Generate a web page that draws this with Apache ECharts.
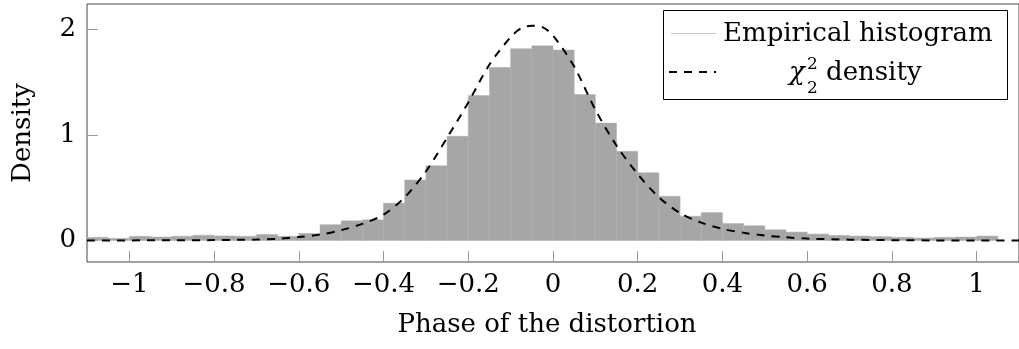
<!DOCTYPE html>
<html>
<head>
<meta charset="utf-8">
<script src="https://cdn.jsdelivr.net/npm/echarts@6/dist/echarts.min.js"></script>
<style>
  html, body { margin: 0; padding: 0; background: #fff; }
  #chart { width: 1019px; height: 349px; }
</style>
</head>
<body>
<div id="chart"></div>
<script>
// Histogram bins: left edge of each bin (bin width 0.05) and its density
const binLeft = [
  -1.10, -1.05, -1.00, -0.95, -0.90, -0.85, -0.80, -0.75, -0.70, -0.65,
  -0.60, -0.55, -0.50, -0.45, -0.40, -0.35, -0.30, -0.25, -0.20, -0.15,
  -0.10, -0.05, 0.00, 0.05, 0.10, 0.15, 0.20, 0.25, 0.30, 0.35,
  0.40, 0.45, 0.50, 0.55, 0.60, 0.65, 0.70, 0.75, 0.80, 0.85,
  0.90, 0.95, 1.00
];
const binWidth = 0.05;
const binDensity = [
  0.030, 0.020, 0.040, 0.033, 0.040, 0.050, 0.043, 0.040, 0.057, 0.040,
  0.067, 0.150, 0.187, 0.196, 0.354, 0.574, 0.709, 0.989, 1.375, 1.642,
  1.820, 1.847, 1.807, 1.385, 1.114, 0.847, 0.643, 0.420, 0.230, 0.265,
  0.161, 0.140, 0.102, 0.080, 0.061, 0.048, 0.042, 0.036, 0.030, 0.024,
  0.030, 0.033, 0.042
];

// Reference density curve
const curveX = [
  -1.10, -1.00, -0.90, -0.80, -0.70, -0.65, -0.60, -0.55, -0.50, -0.45,
  -0.40, -0.35, -0.30, -0.25, -0.20, -0.15, -0.10, -0.075, -0.05, -0.025,
  0.00, 0.05, 0.10, 0.15, 0.20, 0.25, 0.30, 0.35, 0.40, 0.45,
  0.50, 0.55, 0.60, 0.70, 0.80, 0.90, 1.00, 1.10
];
const curveY = [
  0.000, 0.001, 0.002, 0.004, 0.009, 0.016, 0.033, 0.056, 0.098, 0.158,
  0.245, 0.410, 0.655, 0.975, 1.310, 1.670, 1.930, 2.015, 2.037, 2.025,
  1.945, 1.650, 1.240, 0.900, 0.630, 0.410, 0.260, 0.170, 0.110, 0.073,
  0.047, 0.030, 0.018, 0.008, 0.003, 0.001, 0.000, 0.000
];

// Axis ticks
const xTicks = [-1, -0.8, -0.6, -0.4, -0.2, 0, 0.2, 0.4, 0.6, 0.8, 1];
const yTicks = [0, 1, 2];

const legendNames = ['Empirical histogram', 'density'];

const FONT = 'DejaVu Serif';
const minus = v => String(v).replace('-', '\u2212');

const histData = binLeft.map((x0, i) => [x0, x0 + binWidth, binDensity[i]]);
const curveData = curveX.map((x, i) => [x, curveY[i]]);

const chart = echarts.init(document.getElementById('chart'), null, { renderer: 'canvas' });

chart.setOption({
  animation: false,
  backgroundColor: '#fff',
  textStyle: { fontFamily: FONT },
  grid: {
    left: 87, top: 4, right: -7, bottom: 87,
    show: true, borderColor: '#444', borderWidth: 1, backgroundColor: 'transparent'
  },
  xAxis: {
    type: 'value',
    min: -1.1, max: 1.1,
    name: 'Phase of the distortion',
    nameLocation: 'middle',
    nameGap: 50,
    nameTextStyle: { fontFamily: FONT, fontSize: 26, color: '#000', padding: [0, 12, 0, 0] },
    axisLine: { show: false, onZero: false },
    splitLine: { show: false },
    axisTick: { inside: true, length: 11, lineStyle: { color: '#9a9a9a', width: 1 }, customValues: xTicks },
    axisLabel: {
      fontFamily: FONT, fontSize: 26, color: '#000', margin: 10,
      customValues: xTicks, formatter: minus
    }
  },
  yAxis: {
    type: 'value',
    min: -0.204, max: 2.244,
    name: 'Density',
    nameLocation: 'middle',
    nameGap: 51,
    nameTextStyle: { fontFamily: FONT, fontSize: 26, color: '#000' },
    axisLine: { show: false, onZero: false },
    splitLine: { show: false },
    axisTick: { inside: true, length: 11, lineStyle: { color: '#9a9a9a', width: 1 }, customValues: yTicks },
    axisLabel: {
      fontFamily: FONT, fontSize: 26, color: '#000', margin: 11,
      customValues: yTicks, formatter: minus
    }
  },
  series: [
    {
      name: legendNames[0],
      type: 'custom',
      clip: true,
      data: histData,
      encode: { x: [0, 1], y: 2 },
      renderItem: function (params, api) {
        const top = api.coord([api.value(0), api.value(2)]);
        const base = api.coord([api.value(1), 0]);
        return {
          type: 'rect',
          shape: { x: top[0], y: top[1], width: base[0] - top[0], height: base[1] - top[1] },
          style: { fill: '#a6a6a6', stroke: '#afafaf', lineWidth: 0.5 }
        };
      },
      z: 1
    },
    {
      name: 'chi2',
      type: 'line',
      data: curveData,
      smooth: 0.3,
      showSymbol: false,
      clip: true,
      lineStyle: { color: '#000', width: 2, type: [8, 7] },
      z: 3
    }
  ],
  graphic: [
    {
      type: 'group',
      left: 663, top: 10,
      z: 100,
      children: [
        { type: 'rect', shape: { x: 0.5, y: 0.5, width: 344, height: 89 },
          style: { fill: '#fff', stroke: '#000', lineWidth: 1 } },
        { type: 'line', shape: { x1: 8, y1: 23.5, x2: 53, y2: 23.5 },
          style: { stroke: '#c4c4c4', lineWidth: 1 } },
        { type: 'line', shape: { x1: 6, y1: 62, x2: 53, y2: 62 },
          style: { stroke: '#000', lineWidth: 2, lineDash: [8, 7] } },
        { type: 'text', x: 60, y: 24,
          style: { text: legendNames[0], font: '26px "DejaVu Serif"', fill: '#000',
                   align: 'left', verticalAlign: 'middle' } },
        { type: 'text', x: 126, y: 63,
          style: { text: '\u03c7', font: 'italic 26px "DejaVu Serif"', fill: '#000',
                   align: 'left', verticalAlign: 'middle' } },
        { type: 'text', x: 144, y: 55,
          style: { text: '2', font: '17px "DejaVu Serif"', fill: '#000',
                   align: 'left', verticalAlign: 'middle' } },
        { type: 'text', x: 144, y: 79,
          style: { text: '2', font: '17px "DejaVu Serif"', fill: '#000',
                   align: 'left', verticalAlign: 'middle' } },
        { type: 'text', x: 163, y: 63,
          style: { text: legendNames[1], font: '26px "DejaVu Serif"', fill: '#000',
                   align: 'left', verticalAlign: 'middle' } }
      ]
    }
  ]
});
</script>
</body>
</html>
